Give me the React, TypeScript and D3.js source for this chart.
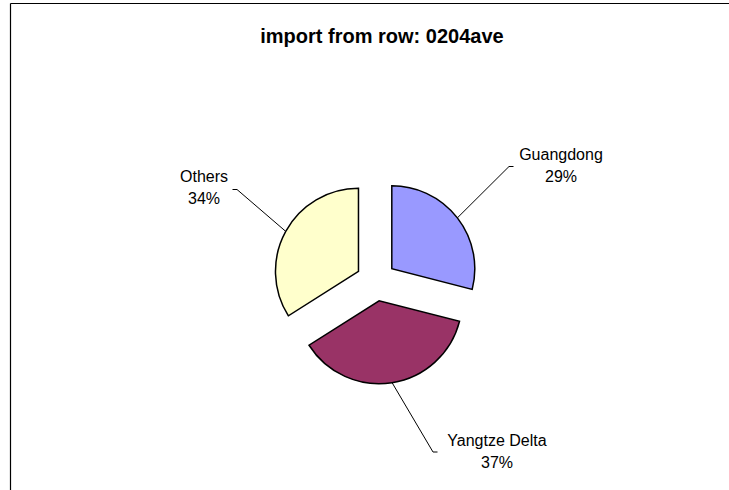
import React from 'react';
import * as d3 from 'd3';

const categories = ['Guangdong', 'Yangtze Delta', 'Others'];
const shares = [29, 37, 34];
const colors = ['#9999FF', '#993366', '#FFFFCC'];
const title = 'import from row: 0204ave';

// label placement (text centre x, first baseline y, leader stub near label, stub direction)
const labelLayout = [
  { x: 561, y: 160, sx: 513.5, sy: 166.5, dir: -1 },
  { x: 497, y: 446, sx: 437.5, sy: 452, dir: -1 },
  { x: 204, y: 182, sx: 232.5, sy: 189.5, dir: 1 },
];

const W = 729;
const H = 490;

const App = () => {
  const cx = 376;
  const cy = 281;
  const radius = 83;
  const explode = 20;

  const pie = d3.pie<number>().sort(null).value(d => d);
  const arcs = pie(shares);
  const arc = d3.arc<d3.PieArcDatum<number>>().innerRadius(0).outerRadius(radius);

  const font = '"Liberation Sans", Arial, sans-serif';

  return (
    <svg width={W} height={H} style={{ position: 'absolute', left: 0, top: 0, background: '#fff' }}>
      {/* chart frame (runs off the right and bottom) */}
      <line x1={10.5} y1={3.5} x2={W} y2={3.5} stroke="#000" strokeWidth={1.2} />
      <line x1={10.5} y1={3.5} x2={10.5} y2={H} stroke="#000" strokeWidth={1.2} />

      <text x={382} y={43} textAnchor="middle" fontFamily={font} fontWeight="bold" fontSize={20}>
        {title}
      </text>

      {arcs.map((a, i) => {
        const mid = (a.startAngle + a.endAngle) / 2;
        const ox = cx + Math.sin(mid) * explode;
        const oy = cy - Math.cos(mid) * explode;
        const px = ox + Math.sin(mid) * radius;
        const py = oy - Math.cos(mid) * radius;
        const lp = labelLayout[i];
        const pct = Math.round((shares[i] / d3.sum(shares)) * 100);
        return (
          <g key={categories[i]}>
            <path
              d={arc(a) || ''}
              transform={`translate(${ox},${oy})`}
              fill={colors[i]}
              stroke="#000"
              strokeWidth={1.5}
            />
            <polyline
              points={`${px},${py} ${lp.sx + lp.dir * 4.5},${lp.sy} ${lp.sx},${lp.sy}`}
              fill="none"
              stroke="#000"
              strokeWidth={1}
            />
            <text x={lp.x} y={lp.y} textAnchor="middle" fontFamily={font} fontSize={16}>
              {categories[i]}
            </text>
            <text x={lp.x} y={lp.y + 22} textAnchor="middle" fontFamily={font} fontSize={16}>
              {pct}%
            </text>
          </g>
        );
      })}
    </svg>
  );
};

export default App;
